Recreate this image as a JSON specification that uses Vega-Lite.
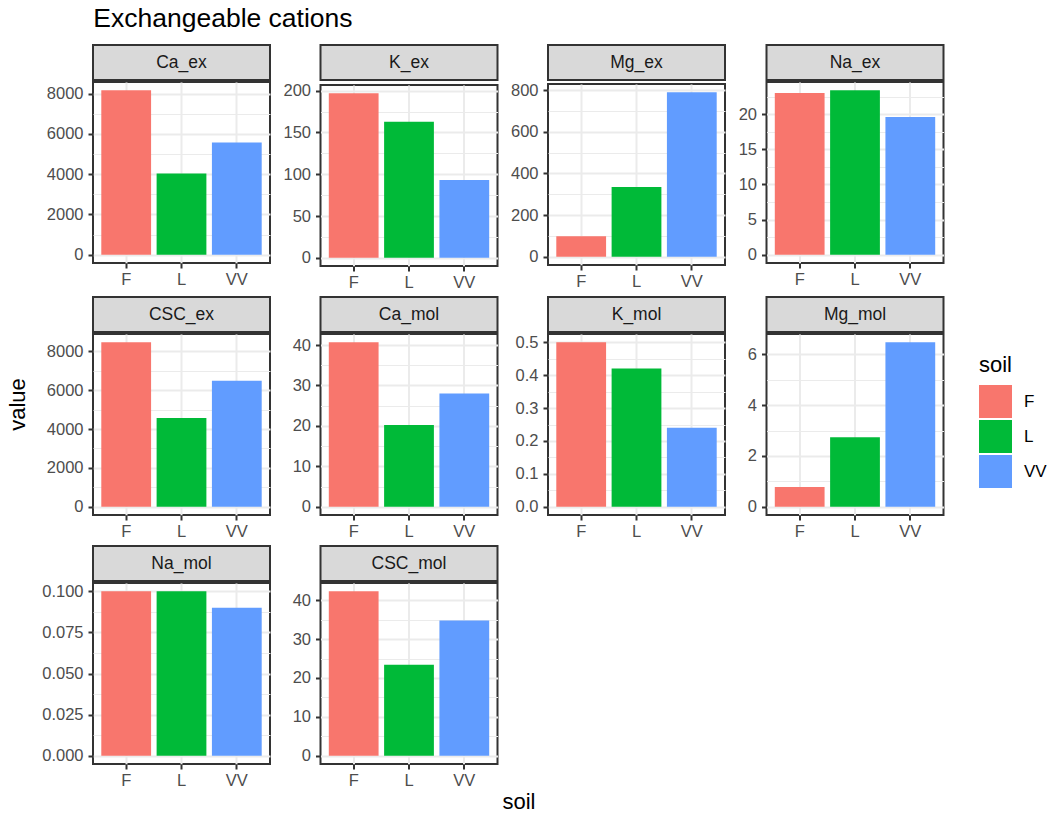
{
  "$schema": "https://vega.github.io/schema/vega-lite/v6.json",
  "padding": {"top": 5, "left": 5, "right": 0, "bottom": 0},
  "background": "white",
  "datasets": {
    "cations": [
      {"var": "Ca_ex", "soil": "F", "value": 8170},
      {"var": "Ca_ex", "soil": "L", "value": 4030},
      {"var": "Ca_ex", "soil": "VV", "value": 5580},
      {"var": "K_ex", "soil": "F", "value": 197},
      {"var": "K_ex", "soil": "L", "value": 163},
      {"var": "K_ex", "soil": "VV", "value": 93},
      {"var": "Mg_ex", "soil": "F", "value": 98},
      {"var": "Mg_ex", "soil": "L", "value": 335},
      {"var": "Mg_ex", "soil": "VV", "value": 790},
      {"var": "Na_ex", "soil": "F", "value": 23.0},
      {"var": "Na_ex", "soil": "L", "value": 23.4},
      {"var": "Na_ex", "soil": "VV", "value": 19.6},
      {"var": "CSC_ex", "soil": "F", "value": 8470},
      {"var": "CSC_ex", "soil": "L", "value": 4570},
      {"var": "CSC_ex", "soil": "VV", "value": 6490},
      {"var": "Ca_mol", "soil": "F", "value": 40.7},
      {"var": "Ca_mol", "soil": "L", "value": 20.2},
      {"var": "Ca_mol", "soil": "VV", "value": 28.0},
      {"var": "K_mol", "soil": "F", "value": 0.5},
      {"var": "K_mol", "soil": "L", "value": 0.42},
      {"var": "K_mol", "soil": "VV", "value": 0.24},
      {"var": "Mg_mol", "soil": "F", "value": 0.78},
      {"var": "Mg_mol", "soil": "L", "value": 2.74},
      {"var": "Mg_mol", "soil": "VV", "value": 6.48},
      {"var": "Na_mol", "soil": "F", "value": 0.1},
      {"var": "Na_mol", "soil": "L", "value": 0.1},
      {"var": "Na_mol", "soil": "VV", "value": 0.09},
      {"var": "CSC_mol", "soil": "F", "value": 42.3},
      {"var": "CSC_mol", "soil": "L", "value": 23.4},
      {"var": "CSC_mol", "soil": "VV", "value": 34.8}
    ]
  },
  "title": {"text": "Exchangeable cations", "anchor": "start", "fontSize": 26.5, "fontWeight": "normal", "color": "#000000", "font": "Liberation Sans", "dx": 88, "offset": 12},
  "vconcat": [
    {
      "title": {"text": "soil", "orient": "bottom", "anchor": "middle", "fontSize": 22, "fontWeight": "normal", "color": "#000000", "font": "Liberation Sans", "dx": 44, "offset": 2},
      "columns": 4,
      "spacing": {"row": 4, "column": 10.5},
      "concat": [
        {"spacing": 0, "vconcat": [
          {"width": 177, "height": 35, "view": {"fill": "#D9D9D9", "stroke": "#333333", "strokeWidth": 2}, "data": {"values": [{"label": "Ca_ex"}]}, "mark": {"type": "text", "fontSize": 17.5, "color": "#1A1A1A", "font": "Liberation Sans"}, "encoding": {"text": {"field": "label"}}},
          {"width": 177, "height": 181, "data": {"name": "cations"}, "transform": [{"filter": "datum.var === 'Ca_ex'"}], "mark": {"type": "bar"},
           "encoding": {
             "x": {"field": "soil", "type": "nominal", "title": null, "scale": {"paddingInner": 0.1, "paddingOuter": 0.15}, "axis": {"grid": true, "bandPosition": 0.5}},
             "y": {"field": "value", "type": "quantitative", "title": null, "scale": {"domain": [-408.5, 8578.5], "nice": false, "zero": false},
                   "axis": {"values": [0, 1000, 2000, 3000, 4000, 5000, 6000, 7000, 8000], "format": "d", "labelExpr": "indexof([1000,3000,5000,7000], datum.value) >= 0 ? '' : datum.label", "gridWidth": {"condition": {"test": "indexof([1000,3000,5000,7000], datum.value) >= 0", "value": 1}, "value": 2}, "tickOpacity": {"condition": {"test": "indexof([1000,3000,5000,7000], datum.value) >= 0", "value": 0}, "value": 1}}},
             "color": {"field": "soil", "type": "nominal", "scale": {"domain": ["F", "L", "VV"], "range": ["#F8766D", "#00BA38", "#619CFF"]}}
           }}
        ]},
        {"spacing": 0, "vconcat": [
          {"width": 177, "height": 35, "view": {"fill": "#D9D9D9", "stroke": "#333333", "strokeWidth": 2}, "data": {"values": [{"label": "K_ex"}]}, "mark": {"type": "text", "fontSize": 17.5, "color": "#1A1A1A", "font": "Liberation Sans"}, "encoding": {"text": {"field": "label"}}},
          {"width": 177, "height": 181, "data": {"name": "cations"}, "transform": [{"filter": "datum.var === 'K_ex'"}], "mark": {"type": "bar"},
           "encoding": {
             "x": {"field": "soil", "type": "nominal", "title": null, "scale": {"paddingInner": 0.1, "paddingOuter": 0.15}, "axis": {"grid": true, "bandPosition": 0.5}},
             "y": {"field": "value", "type": "quantitative", "title": null, "scale": {"domain": [-9.85, 206.85], "nice": false, "zero": false},
                   "axis": {"values": [0, 25, 50, 75, 100, 125, 150, 175, 200], "format": "d", "labelExpr": "indexof([25,75,125,175], datum.value) >= 0 ? '' : datum.label", "gridWidth": {"condition": {"test": "indexof([25,75,125,175], datum.value) >= 0", "value": 1}, "value": 2}, "tickOpacity": {"condition": {"test": "indexof([25,75,125,175], datum.value) >= 0", "value": 0}, "value": 1}}},
             "color": {"field": "soil", "type": "nominal", "scale": {"domain": ["F", "L", "VV"], "range": ["#F8766D", "#00BA38", "#619CFF"]}}
           }}
        ]},
        {"spacing": 0, "vconcat": [
          {"width": 177, "height": 35, "view": {"fill": "#D9D9D9", "stroke": "#333333", "strokeWidth": 2}, "data": {"values": [{"label": "Mg_ex"}]}, "mark": {"type": "text", "fontSize": 17.5, "color": "#1A1A1A", "font": "Liberation Sans"}, "encoding": {"text": {"field": "label"}}},
          {"width": 177, "height": 181, "data": {"name": "cations"}, "transform": [{"filter": "datum.var === 'Mg_ex'"}], "mark": {"type": "bar"},
           "encoding": {
             "x": {"field": "soil", "type": "nominal", "title": null, "scale": {"paddingInner": 0.1, "paddingOuter": 0.15}, "axis": {"grid": true, "bandPosition": 0.5}},
             "y": {"field": "value", "type": "quantitative", "title": null, "scale": {"domain": [-39.5, 829.5], "nice": false, "zero": false},
                   "axis": {"values": [0, 100, 200, 300, 400, 500, 600, 700, 800], "format": "d", "labelExpr": "indexof([100,300,500,700], datum.value) >= 0 ? '' : datum.label", "gridWidth": {"condition": {"test": "indexof([100,300,500,700], datum.value) >= 0", "value": 1}, "value": 2}, "tickOpacity": {"condition": {"test": "indexof([100,300,500,700], datum.value) >= 0", "value": 0}, "value": 1}}},
             "color": {"field": "soil", "type": "nominal", "scale": {"domain": ["F", "L", "VV"], "range": ["#F8766D", "#00BA38", "#619CFF"]}}
           }}
        ]},
        {"spacing": 0, "vconcat": [
          {"width": 177, "height": 35, "view": {"fill": "#D9D9D9", "stroke": "#333333", "strokeWidth": 2}, "data": {"values": [{"label": "Na_ex"}]}, "mark": {"type": "text", "fontSize": 17.5, "color": "#1A1A1A", "font": "Liberation Sans"}, "encoding": {"text": {"field": "label"}}},
          {"width": 177, "height": 181, "data": {"name": "cations"}, "transform": [{"filter": "datum.var === 'Na_ex'"}], "mark": {"type": "bar"},
           "encoding": {
             "x": {"field": "soil", "type": "nominal", "title": null, "scale": {"paddingInner": 0.1, "paddingOuter": 0.15}, "axis": {"grid": true, "bandPosition": 0.5}},
             "y": {"field": "value", "type": "quantitative", "title": null, "scale": {"domain": [-1.17, 24.57], "nice": false, "zero": false},
                   "axis": {"values": [0, 2.5, 5, 7.5, 10, 12.5, 15, 17.5, 20, 22.5], "format": "d", "labelExpr": "indexof([2.5,7.5,12.5,17.5,22.5], datum.value) >= 0 ? '' : datum.label", "gridWidth": {"condition": {"test": "indexof([2.5,7.5,12.5,17.5,22.5], datum.value) >= 0", "value": 1}, "value": 2}, "tickOpacity": {"condition": {"test": "indexof([2.5,7.5,12.5,17.5,22.5], datum.value) >= 0", "value": 0}, "value": 1}}},
             "color": {"field": "soil", "type": "nominal", "scale": {"domain": ["F", "L", "VV"], "range": ["#F8766D", "#00BA38", "#619CFF"]}}
           }}
        ]},
        {"spacing": 0, "vconcat": [
          {"width": 177, "height": 35, "view": {"fill": "#D9D9D9", "stroke": "#333333", "strokeWidth": 2}, "data": {"values": [{"label": "CSC_ex"}]}, "mark": {"type": "text", "fontSize": 17.5, "color": "#1A1A1A", "font": "Liberation Sans"}, "encoding": {"text": {"field": "label"}}},
          {"width": 177, "height": 181, "data": {"name": "cations"}, "transform": [{"filter": "datum.var === 'CSC_ex'"}], "mark": {"type": "bar"},
           "encoding": {
             "x": {"field": "soil", "type": "nominal", "title": null, "scale": {"paddingInner": 0.1, "paddingOuter": 0.15}, "axis": {"grid": true, "bandPosition": 0.5}},
             "y": {"field": "value", "type": "quantitative", "title": "value", "scale": {"domain": [-423.5, 8893.5], "nice": false, "zero": false},
                   "axis": {"titleFontSize": 22, "titleFontWeight": "normal", "titleColor": "#000000", "titleY": 70, "titlePadding": 17, "values": [0, 1000, 2000, 3000, 4000, 5000, 6000, 7000, 8000], "format": "d", "labelExpr": "indexof([1000,3000,5000,7000], datum.value) >= 0 ? '' : datum.label", "gridWidth": {"condition": {"test": "indexof([1000,3000,5000,7000], datum.value) >= 0", "value": 1}, "value": 2}, "tickOpacity": {"condition": {"test": "indexof([1000,3000,5000,7000], datum.value) >= 0", "value": 0}, "value": 1}}},
             "color": {"field": "soil", "type": "nominal", "scale": {"domain": ["F", "L", "VV"], "range": ["#F8766D", "#00BA38", "#619CFF"]}}
           }}
        ]},
        {"spacing": 0, "vconcat": [
          {"width": 177, "height": 35, "view": {"fill": "#D9D9D9", "stroke": "#333333", "strokeWidth": 2}, "data": {"values": [{"label": "Ca_mol"}]}, "mark": {"type": "text", "fontSize": 17.5, "color": "#1A1A1A", "font": "Liberation Sans"}, "encoding": {"text": {"field": "label"}}},
          {"width": 177, "height": 181, "data": {"name": "cations"}, "transform": [{"filter": "datum.var === 'Ca_mol'"}], "mark": {"type": "bar"},
           "encoding": {
             "x": {"field": "soil", "type": "nominal", "title": null, "scale": {"paddingInner": 0.1, "paddingOuter": 0.15}, "axis": {"grid": true, "bandPosition": 0.5}},
             "y": {"field": "value", "type": "quantitative", "title": null, "scale": {"domain": [-2.035, 42.735], "nice": false, "zero": false},
                   "axis": {"values": [0, 5, 10, 15, 20, 25, 30, 35, 40], "format": "d", "labelExpr": "indexof([5,15,25,35], datum.value) >= 0 ? '' : datum.label", "gridWidth": {"condition": {"test": "indexof([5,15,25,35], datum.value) >= 0", "value": 1}, "value": 2}, "tickOpacity": {"condition": {"test": "indexof([5,15,25,35], datum.value) >= 0", "value": 0}, "value": 1}}},
             "color": {"field": "soil", "type": "nominal", "scale": {"domain": ["F", "L", "VV"], "range": ["#F8766D", "#00BA38", "#619CFF"]}}
           }}
        ]},
        {"spacing": 0, "vconcat": [
          {"width": 177, "height": 35, "view": {"fill": "#D9D9D9", "stroke": "#333333", "strokeWidth": 2}, "data": {"values": [{"label": "K_mol"}]}, "mark": {"type": "text", "fontSize": 17.5, "color": "#1A1A1A", "font": "Liberation Sans"}, "encoding": {"text": {"field": "label"}}},
          {"width": 177, "height": 181, "data": {"name": "cations"}, "transform": [{"filter": "datum.var === 'K_mol'"}], "mark": {"type": "bar"},
           "encoding": {
             "x": {"field": "soil", "type": "nominal", "title": null, "scale": {"paddingInner": 0.1, "paddingOuter": 0.15}, "axis": {"grid": true, "bandPosition": 0.5}},
             "y": {"field": "value", "type": "quantitative", "title": null, "scale": {"domain": [-0.025, 0.525], "nice": false, "zero": false},
                   "axis": {"values": [0, 0.05, 0.1, 0.15, 0.2, 0.25, 0.3, 0.35, 0.4, 0.45, 0.5], "format": ".1f", "labelExpr": "indexof([0.05,0.15,0.25,0.35,0.45], datum.value) >= 0 ? '' : datum.label", "gridWidth": {"condition": {"test": "indexof([0.05,0.15,0.25,0.35,0.45], datum.value) >= 0", "value": 1}, "value": 2}, "tickOpacity": {"condition": {"test": "indexof([0.05,0.15,0.25,0.35,0.45], datum.value) >= 0", "value": 0}, "value": 1}}},
             "color": {"field": "soil", "type": "nominal", "scale": {"domain": ["F", "L", "VV"], "range": ["#F8766D", "#00BA38", "#619CFF"]}}
           }}
        ]},
        {"spacing": 0, "vconcat": [
          {"width": 177, "height": 35, "view": {"fill": "#D9D9D9", "stroke": "#333333", "strokeWidth": 2}, "data": {"values": [{"label": "Mg_mol"}]}, "mark": {"type": "text", "fontSize": 17.5, "color": "#1A1A1A", "font": "Liberation Sans"}, "encoding": {"text": {"field": "label"}}},
          {"width": 177, "height": 181, "data": {"name": "cations"}, "transform": [{"filter": "datum.var === 'Mg_mol'"}], "mark": {"type": "bar"},
           "encoding": {
             "x": {"field": "soil", "type": "nominal", "title": null, "scale": {"paddingInner": 0.1, "paddingOuter": 0.15}, "axis": {"grid": true, "bandPosition": 0.5}},
             "y": {"field": "value", "type": "quantitative", "title": null, "scale": {"domain": [-0.324, 6.804], "nice": false, "zero": false},
                   "axis": {"values": [0, 1, 2, 3, 4, 5, 6], "format": "d", "labelExpr": "indexof([1,3,5], datum.value) >= 0 ? '' : datum.label", "gridWidth": {"condition": {"test": "indexof([1,3,5], datum.value) >= 0", "value": 1}, "value": 2}, "tickOpacity": {"condition": {"test": "indexof([1,3,5], datum.value) >= 0", "value": 0}, "value": 1}}},
             "color": {"field": "soil", "type": "nominal", "scale": {"domain": ["F", "L", "VV"], "range": ["#F8766D", "#00BA38", "#619CFF"]}}
           }}
        ]},
        {"spacing": 0, "vconcat": [
          {"width": 177, "height": 35, "view": {"fill": "#D9D9D9", "stroke": "#333333", "strokeWidth": 2}, "data": {"values": [{"label": "Na_mol"}]}, "mark": {"type": "text", "fontSize": 17.5, "color": "#1A1A1A", "font": "Liberation Sans"}, "encoding": {"text": {"field": "label"}}},
          {"width": 177, "height": 181, "data": {"name": "cations"}, "transform": [{"filter": "datum.var === 'Na_mol'"}], "mark": {"type": "bar"},
           "encoding": {
             "x": {"field": "soil", "type": "nominal", "title": null, "scale": {"paddingInner": 0.1, "paddingOuter": 0.15}, "axis": {"grid": true, "bandPosition": 0.5}},
             "y": {"field": "value", "type": "quantitative", "title": null, "scale": {"domain": [-0.005, 0.105], "nice": false, "zero": false},
                   "axis": {"values": [0, 0.0125, 0.025, 0.0375, 0.05, 0.0625, 0.075, 0.0875, 0.1], "format": ".3f", "labelExpr": "indexof([0.0125,0.0375,0.0625,0.0875], datum.value) >= 0 ? '' : datum.label", "gridWidth": {"condition": {"test": "indexof([0.0125,0.0375,0.0625,0.0875], datum.value) >= 0", "value": 1}, "value": 2}, "tickOpacity": {"condition": {"test": "indexof([0.0125,0.0375,0.0625,0.0875], datum.value) >= 0", "value": 0}, "value": 1}}},
             "color": {"field": "soil", "type": "nominal", "scale": {"domain": ["F", "L", "VV"], "range": ["#F8766D", "#00BA38", "#619CFF"]}}
           }}
        ]},
        {"spacing": 0, "vconcat": [
          {"width": 177, "height": 35, "view": {"fill": "#D9D9D9", "stroke": "#333333", "strokeWidth": 2}, "data": {"values": [{"label": "CSC_mol"}]}, "mark": {"type": "text", "fontSize": 17.5, "color": "#1A1A1A", "font": "Liberation Sans"}, "encoding": {"text": {"field": "label"}}},
          {"width": 177, "height": 181, "data": {"name": "cations"}, "transform": [{"filter": "datum.var === 'CSC_mol'"}], "mark": {"type": "bar"},
           "encoding": {
             "x": {"field": "soil", "type": "nominal", "title": null, "scale": {"paddingInner": 0.1, "paddingOuter": 0.15}, "axis": {"grid": true, "bandPosition": 0.5}},
             "y": {"field": "value", "type": "quantitative", "title": null, "scale": {"domain": [-2.115, 44.415], "nice": false, "zero": false},
                   "axis": {"values": [0, 5, 10, 15, 20, 25, 30, 35, 40], "format": "d", "labelExpr": "indexof([5,15,25,35], datum.value) >= 0 ? '' : datum.label", "gridWidth": {"condition": {"test": "indexof([5,15,25,35], datum.value) >= 0", "value": 1}, "value": 2}, "tickOpacity": {"condition": {"test": "indexof([5,15,25,35], datum.value) >= 0", "value": 0}, "value": 1}}},
             "color": {"field": "soil", "type": "nominal", "scale": {"domain": ["F", "L", "VV"], "range": ["#F8766D", "#00BA38", "#619CFF"]}}
           }}
        ]}
      ]
    }
  ],
  "resolve": {"scale": {"x": "independent", "y": "independent"}},
  "config": {
    "font": "Liberation Sans",
    "view": {"stroke": "#333333", "strokeWidth": 2},
    "axis": {"domain": false, "labelColor": "#4D4D4D", "labelFontSize": 16.5, "labelFont": "Liberation Sans", "tickColor": "#333333", "tickSize": 5, "tickWidth": 2, "gridColor": "#EBEBEB", "gridWidth": 2, "labelOverlap": false, "titleFont": "Liberation Sans"},
    "axisX": {"labelAngle": 0, "labelPadding": 3},
    "axisY": {"labelPadding": 5},
    "legend": {"orient": "none", "legendX": 886, "legendY": 310, "titleFontSize": 22, "titleFontWeight": "normal", "titleColor": "#000000", "titleFont": "Liberation Sans", "labelFontSize": 17, "labelColor": "#000000", "labelFont": "Liberation Sans", "symbolType": "square", "symbolSize": 1089, "symbolStrokeWidth": 0, "symbolOpacity": 1, "rowPadding": 2, "labelOffset": 12, "titlePadding": 8}
  }
}
